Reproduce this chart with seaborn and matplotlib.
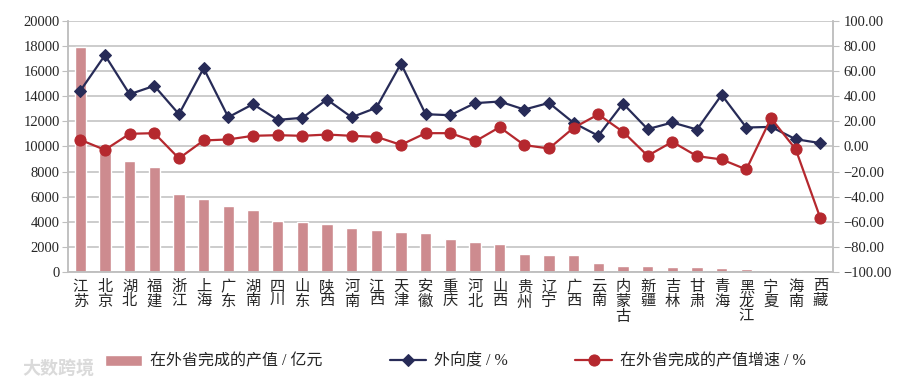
import numpy as np
import pandas as pd
import seaborn as sns
import matplotlib.pyplot as plt

# Provinces (x categories)
provinces = ["江苏", "北京", "湖北", "福建", "浙江", "上海", "广东", "湖南", "四川", "山东",
             "陕西", "河南", "江西", "天津", "安徽", "重庆", "河北", "山西", "贵州", "辽宁",
             "广西", "云南", "内蒙古", "新疆", "吉林", "甘肃", "青海", "黑龙江", "宁夏", "海南", "西藏"]

# Output value completed in other provinces (100 million yuan)
output_value = [17930, 9500, 8830, 8330, 6180, 5810, 5280, 4930, 4030, 3980,
                3790, 3500, 3320, 3160, 3080, 2630, 2410, 2230, 1470, 1380,
                1350, 720, 500, 480, 420, 400, 290, 265, 160, 80, 50]

# Outward degree (%)
outward = [44.3, 72.7, 41.6, 48.3, 25.7, 62.3, 23.3, 33.7, 21.2, 22.8,
           37.4, 23.3, 30.8, 66.0, 25.7, 24.9, 34.5, 35.8, 29.4, 34.7,
           18.8, 8.5, 34.2, 13.8, 19.1, 13.5, 41.1, 15.1, 15.6, 5.8, 2.7]

# Growth rate of output value in other provinces (%)
growth = [5.3, -2.7, 10.1, 10.6, -9.5, 4.8, 5.6, 8.5, 9.0, 8.5,
          9.5, 8.5, 7.7, 1.3, 10.6, 10.6, 4.0, 15.4, 1.1, -1.6,
          14.9, 25.5, 11.7, -7.4, 3.7, -7.7, -10.3, -18.3, 22.5, -2.1, -57.0]

df = pd.DataFrame({
    "province": ["\n".join(p) for p in provinces],
    "idx": np.arange(len(provinces)),
    "value": output_value,
    "outward": outward,
    "growth": growth,
})

sns.set_style("white")
plt.rcParams["font.family"] = ["Liberation Serif", "Noto Sans CJK SC", "DejaVu Sans"]

bar_color = "#CD8B8F"
navy = "#272B57"
red = "#B5282E"
gray = "#BFBFBF"

fig = plt.figure(figsize=(9.11, 3.87), dpi=100)
ax = fig.add_axes([0.0746, 0.297, 0.8394, 0.649])

sns.barplot(data=df, x="province", y="value", color=bar_color, width=0.45,
            saturation=1, ax=ax, label="在外省完成的产值 / 亿元")
ax.set_ylim(0, 20000)
ax.set_yticks(np.arange(0, 20001, 2000))
ax.set_xlim(-0.5, len(provinces) - 0.5)
ax.yaxis.grid(True, color=gray, linewidth=1.1)
ax.set_axisbelow(True)
ax.set_xlabel("")
ax.set_ylabel("")
ax.tick_params(axis="y", length=4, color=gray, labelsize=10.5, pad=2)
ax.tick_params(axis="x", which="major", length=0, labelsize=11, pad=6)
ax.set_xticks(np.arange(-0.5, len(provinces)), minor=True)
ax.tick_params(axis="x", which="minor", length=5, color=gray)
for lbl in ax.get_xticklabels():
    lbl.set_linespacing(1.05)
    lbl.set_verticalalignment("top")

ax2 = ax.twinx()
sns.lineplot(data=df, x="idx", y="outward", color=navy, marker="D", markersize=6,
             markeredgecolor=navy, linewidth=1.6, ax=ax2, label="外向度 / %")
sns.lineplot(data=df, x="idx", y="growth", color=red, marker="o", markersize=8,
             markeredgecolor=red, linewidth=1.6, ax=ax2, label="在外省完成的产值增速 / %")
ax2.set_ylim(-100, 100)
ax2.set_yticks(np.arange(-100, 101, 20))
ax2.set_yticklabels([f"{v:.2f}".replace("-", "\u2212") for v in np.arange(-100, 101, 20)])
ax2.set_xlim(-0.5, len(provinces) - 0.5)
ax2.set_ylabel("")
ax2.set_xlabel("")
ax2.tick_params(axis="y", length=4, color=gray, labelsize=10.5, pad=4)
ax2.get_legend().remove()

for a in (ax, ax2):
    a.spines["top"].set_visible(False)
    for s in ("left", "right", "bottom"):
        a.spines[s].set_color(gray)
        a.spines[s].set_linewidth(1.1)

h1, l1 = ax.get_legend_handles_labels()
h2, l2 = ax2.get_legend_handles_labels()
if ax.get_legend() is not None:
    ax.get_legend().remove()
fig.legend(h1 + h2, l1 + l2, loc="center", bbox_to_anchor=(0.5, 0.065), ncol=3,
           frameon=False, fontsize=11.5, columnspacing=4.2, handlelength=2.3,
           handletextpad=0.5)

fig.text(0.025, 0.035, "大数跨境", color="#DADADA", fontsize=13, fontweight="bold",
         family=["Noto Sans CJK SC"])

plt.savefig("out.png", dpi=100)
